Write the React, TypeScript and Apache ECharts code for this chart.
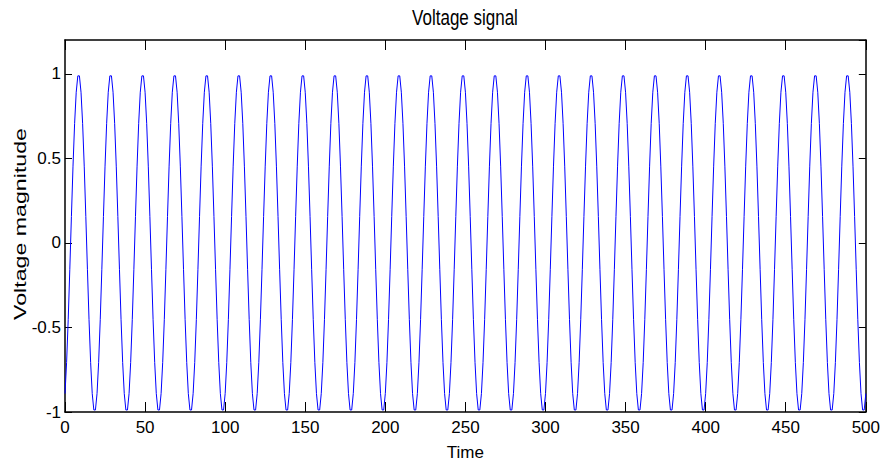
import React, { useEffect, useRef } from "react";
import * as echarts from "echarts";

const chartTitle = "Voltage signal";
const xName = "Time";
const yName = "Voltage magnitude";

// Voltage samples at t = 0, 1, 2, ... 500 (20 samples per cycle)
const voltage: number[] = [
  -0.891, -0.707, -0.454, -0.156, 0.156, 0.454, 0.707, 0.891, 0.988, 0.988, 0.891, 0.707, 0.454, 0.156, -0.156, -0.454, -0.707, -0.891, -0.988, -0.988,
  -0.891, -0.707, -0.454, -0.156, 0.156, 0.454, 0.707, 0.891, 0.988, 0.988, 0.891, 0.707, 0.454, 0.156, -0.156, -0.454, -0.707, -0.891, -0.988, -0.988,
  -0.891, -0.707, -0.454, -0.156, 0.156, 0.454, 0.707, 0.891, 0.988, 0.988, 0.891, 0.707, 0.454, 0.156, -0.156, -0.454, -0.707, -0.891, -0.988, -0.988,
  -0.891, -0.707, -0.454, -0.156, 0.156, 0.454, 0.707, 0.891, 0.988, 0.988, 0.891, 0.707, 0.454, 0.156, -0.156, -0.454, -0.707, -0.891, -0.988, -0.988,
  -0.891, -0.707, -0.454, -0.156, 0.156, 0.454, 0.707, 0.891, 0.988, 0.988, 0.891, 0.707, 0.454, 0.156, -0.156, -0.454, -0.707, -0.891, -0.988, -0.988,
  -0.891, -0.707, -0.454, -0.156, 0.156, 0.454, 0.707, 0.891, 0.988, 0.988, 0.891, 0.707, 0.454, 0.156, -0.156, -0.454, -0.707, -0.891, -0.988, -0.988,
  -0.891, -0.707, -0.454, -0.156, 0.156, 0.454, 0.707, 0.891, 0.988, 0.988, 0.891, 0.707, 0.454, 0.156, -0.156, -0.454, -0.707, -0.891, -0.988, -0.988,
  -0.891, -0.707, -0.454, -0.156, 0.156, 0.454, 0.707, 0.891, 0.988, 0.988, 0.891, 0.707, 0.454, 0.156, -0.156, -0.454, -0.707, -0.891, -0.988, -0.988,
  -0.891, -0.707, -0.454, -0.156, 0.156, 0.454, 0.707, 0.891, 0.988, 0.988, 0.891, 0.707, 0.454, 0.156, -0.156, -0.454, -0.707, -0.891, -0.988, -0.988,
  -0.891, -0.707, -0.454, -0.156, 0.156, 0.454, 0.707, 0.891, 0.988, 0.988, 0.891, 0.707, 0.454, 0.156, -0.156, -0.454, -0.707, -0.891, -0.988, -0.988,
  -0.891, -0.707, -0.454, -0.156, 0.156, 0.454, 0.707, 0.891, 0.988, 0.988, 0.891, 0.707, 0.454, 0.156, -0.156, -0.454, -0.707, -0.891, -0.988, -0.988,
  -0.891, -0.707, -0.454, -0.156, 0.156, 0.454, 0.707, 0.891, 0.988, 0.988, 0.891, 0.707, 0.454, 0.156, -0.156, -0.454, -0.707, -0.891, -0.988, -0.988,
  -0.891, -0.707, -0.454, -0.156, 0.156, 0.454, 0.707, 0.891, 0.988, 0.988, 0.891, 0.707, 0.454, 0.156, -0.156, -0.454, -0.707, -0.891, -0.988, -0.988,
  -0.891, -0.707, -0.454, -0.156, 0.156, 0.454, 0.707, 0.891, 0.988, 0.988, 0.891, 0.707, 0.454, 0.156, -0.156, -0.454, -0.707, -0.891, -0.988, -0.988,
  -0.891, -0.707, -0.454, -0.156, 0.156, 0.454, 0.707, 0.891, 0.988, 0.988, 0.891, 0.707, 0.454, 0.156, -0.156, -0.454, -0.707, -0.891, -0.988, -0.988,
  -0.891, -0.707, -0.454, -0.156, 0.156, 0.454, 0.707, 0.891, 0.988, 0.988, 0.891, 0.707, 0.454, 0.156, -0.156, -0.454, -0.707, -0.891, -0.988, -0.988,
  -0.891, -0.707, -0.454, -0.156, 0.156, 0.454, 0.707, 0.891, 0.988, 0.988, 0.891, 0.707, 0.454, 0.156, -0.156, -0.454, -0.707, -0.891, -0.988, -0.988,
  -0.891, -0.707, -0.454, -0.156, 0.156, 0.454, 0.707, 0.891, 0.988, 0.988, 0.891, 0.707, 0.454, 0.156, -0.156, -0.454, -0.707, -0.891, -0.988, -0.988,
  -0.891, -0.707, -0.454, -0.156, 0.156, 0.454, 0.707, 0.891, 0.988, 0.988, 0.891, 0.707, 0.454, 0.156, -0.156, -0.454, -0.707, -0.891, -0.988, -0.988,
  -0.891, -0.707, -0.454, -0.156, 0.156, 0.454, 0.707, 0.891, 0.988, 0.988, 0.891, 0.707, 0.454, 0.156, -0.156, -0.454, -0.707, -0.891, -0.988, -0.988,
  -0.891, -0.707, -0.454, -0.156, 0.156, 0.454, 0.707, 0.891, 0.988, 0.988, 0.891, 0.707, 0.454, 0.156, -0.156, -0.454, -0.707, -0.891, -0.988, -0.988,
  -0.891, -0.707, -0.454, -0.156, 0.156, 0.454, 0.707, 0.891, 0.988, 0.988, 0.891, 0.707, 0.454, 0.156, -0.156, -0.454, -0.707, -0.891, -0.988, -0.988,
  -0.891, -0.707, -0.454, -0.156, 0.156, 0.454, 0.707, 0.891, 0.988, 0.988, 0.891, 0.707, 0.454, 0.156, -0.156, -0.454, -0.707, -0.891, -0.988, -0.988,
  -0.891, -0.707, -0.454, -0.156, 0.156, 0.454, 0.707, 0.891, 0.988, 0.988, 0.891, 0.707, 0.454, 0.156, -0.156, -0.454, -0.707, -0.891, -0.988, -0.988,
  -0.891, -0.707, -0.454, -0.156, 0.156, 0.454, 0.707, 0.891, 0.988, 0.988, 0.891, 0.707, 0.454, 0.156, -0.156, -0.454, -0.707, -0.891, -0.988, -0.988,
  -0.891,
];

const xMin = 0;
const xMax = 500;
const xStep = 50;
const yMin = -1;
const yMax = 1.2;
const yStep = 0.5;

const FONT = "'Liberation Sans', Arial, Helvetica, sans-serif";

export default function App() {
  const ref = useRef<HTMLDivElement>(null);
  useEffect(() => {
    if (!ref.current) return;
    const chart = echarts.init(ref.current, null, { renderer: "svg" });
    const data = voltage.map((v, i) => [i, v]);
    const axisLine = { show: true, onZero: false, lineStyle: { color: "#000", width: 1.5 } };
    const tickX = { show: true, inside: true, length: 10, lineStyle: { color: "#000", width: 1 } };
    const tickY = { show: true, inside: true, length: 7, lineStyle: { color: "#000", width: 1 } };
    chart.setOption({
      animation: false,
      backgroundColor: "#fff",
      grid: { left: 65, right: 17, top: 40, bottom: 54, containLabel: false },
      xAxis: [
        {
          type: "value",
          position: "bottom",
          min: xMin,
          max: xMax,
          interval: xStep,
          name: xName,
          nameLocation: "middle",
          nameGap: 32,
          nameTextStyle: { fontFamily: FONT, fontSize: 17, color: "#000" },
          axisLine,
          axisTick: tickX,
          splitLine: { show: false },
          axisLabel: { fontFamily: FONT, fontSize: 17, color: "#000", margin: 7 },
        },
        {
          type: "value",
          position: "top",
          min: xMin,
          max: xMax,
          interval: xStep,
          axisLine,
          axisTick: tickX,
          splitLine: { show: false },
          axisLabel: { show: false },
        },
      ],
      yAxis: [
        {
          type: "value",
          position: "left",
          min: yMin,
          max: yMax,
          interval: yStep,
          axisLine,
          axisTick: tickY,
          splitLine: { show: false },
          axisLabel: {
            fontFamily: FONT,
            fontSize: 17,
            color: "#000",
            margin: 4,
            showMaxLabel: false,
          },
        },
        {
          type: "value",
          position: "right",
          min: yMin,
          max: yMax,
          interval: yStep,
          axisLine,
          axisTick: tickY,
          splitLine: { show: false },
          axisLabel: { show: false },
        },
      ],
      graphic: [
        {
          type: "text",
          x: 465,
          y: 17,
          scaleY: 1.3,
          style: {
            text: chartTitle,
            fontFamily: FONT,
            fontSize: 17,
            fill: "#000",
            align: "center",
            verticalAlign: "middle",
          },
        },
        {
          type: "text",
          x: 20,
          y: 224,
          rotation: Math.PI / 2,
          scaleX: 1.45,
          style: {
            text: yName,
            fontFamily: FONT,
            fontSize: 16,
            fill: "#000",
            align: "center",
            verticalAlign: "middle",
          },
        },
      ],
      series: [
        {
          type: "line",
          data,
          xAxisIndex: 0,
          yAxisIndex: 0,
          showSymbol: false,
          symbol: "none",
          smooth: false,
          lineStyle: { color: "#0000ff", width: 1 },
          clip: true,
        },
      ],
    });
    return () => chart.dispose();
  }, []);
  return (
    <div
      ref={ref}
      style={{ position: "fixed", left: 0, top: 0, width: 883, height: 466 }}
    />
  );
}
